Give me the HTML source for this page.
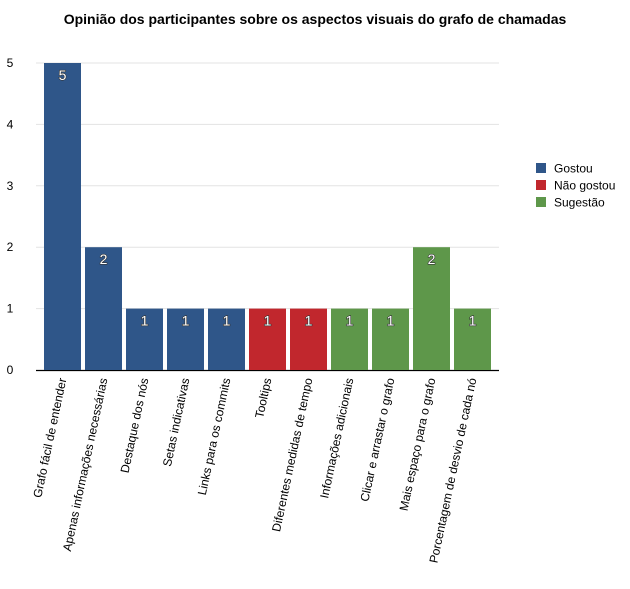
<!DOCTYPE html>
<html><head><meta charset="utf-8"><style>
body{margin:0;background:#fff;font-family:"Liberation Sans",sans-serif;}
</style></head><body>
<svg width="630" height="584" xmlns="http://www.w3.org/2000/svg" font-family="Liberation Sans, sans-serif">
<text x="315" y="24" text-anchor="middle" font-size="14" font-weight="bold">Opinião dos participantes sobre os aspectos visuais do grafo de chamadas</text>
<g id="grid"></g><g id="bars"></g><g id="xl"></g>
<g>
<rect x="536" y="163" width="10" height="10" fill="#2f5689"/><text x="554" y="172.5" font-size="12">Gostou</text>
<rect x="536" y="180" width="10" height="10" fill="#c1272d"/><text x="554" y="189.5" font-size="12">Não gostou</text>
<rect x="536" y="197" width="10" height="10" fill="#5e974a"/><text x="554" y="206.5" font-size="12">Sugestão</text>
</g>
</svg>
<script>
const categories=["Grafo fácil de entender","Apenas informações necessárias","Destaque dos nós","Setas indicativas","Links para os commits","Tooltips","Diferentes medidas de tempo","Informações adicionais","Clicar e arrastar o grafo","Mais espaço para o grafo","Porcentagem de desvio de cada nó"];
const values=[5,2,1,1,1,1,1,1,1,2,1];
const groups=["Gostou","Gostou","Gostou","Gostou","Gostou","Não gostou","Não gostou","Sugestão","Sugestão","Sugestão","Sugestão"];
const yTicks=[0,1,2,3,4,5];
const colors={"Gostou":"#2f5689","Não gostou":"#c1272d","Sugestão":"#5e974a"};
const NS="http://www.w3.org/2000/svg";
const y=v=>370-v*61.4, x=i=>44+i*41, bw=37;
function mk(t,a,p){const e=document.createElementNS(NS,t);for(const k in a)e.setAttribute(k,a[k]);p.appendChild(e);return e;}
const g=document.getElementById('grid'),b=document.getElementById('bars'),xl=document.getElementById('xl');
yTicks.forEach(v=>{
 if(v>0){const l=mk('line',{x1:36,x2:499,y1:y(v),y2:y(v),stroke:'#e3e3e3','stroke-width':1},g);
 
 }
 const t=mk('text',{x:10,y:y(v)+4,'font-size':12,'text-anchor':'middle'},g);t.textContent=v;
 
 
});
values.forEach((v,i)=>{
 const r=mk('rect',{x:x(i),y:y(v),width:bw,height:370-y(v),fill:colors[groups[i]]},b);
 
 
 const t=mk('text',{x:x(i)+bw/2,y:y(v)+17,'font-size':14,'text-anchor':'middle',fill:'#fff',style:'paint-order:stroke',stroke:'#333','stroke-width':1.2},b);t.textContent=v;
 
 
 const c=mk('text',{transform:`translate(${x(i)+bw/2+4},379) rotate(-78)`,'font-size':12,'text-anchor':'end'},xl);c.textContent=categories[i];
 
 
});
const ax=mk('line',{x1:36,x2:499,y1:370.5,y2:370.5,stroke:'#000','stroke-width':1.2},g);


</script>
</body></html>
